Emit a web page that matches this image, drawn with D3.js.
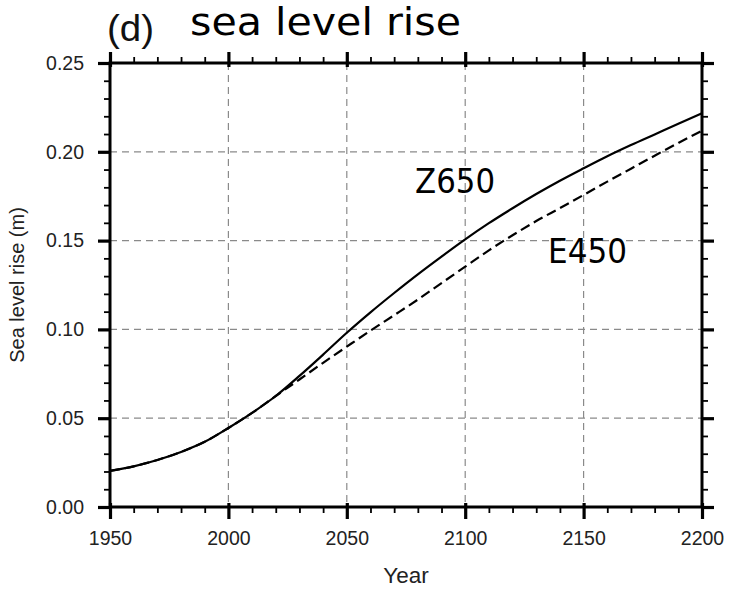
<!DOCTYPE html>
<html>
<head>
<meta charset="utf-8">
<script src="https://cdn.jsdelivr.net/npm/d3@7"></script>
<style>
  html, body { margin: 0; padding: 0; background: #fff; }
  svg { display: block; }
</style>
</head>
<body>
<div id="chart"></div>
<script>
'use strict';

const width = 730;
const height = 592;

// data
const years = [1950, 1960, 1970, 1980, 1990, 2000, 2010, 2020, 2030, 2040, 2050, 2060, 2070,
  2080, 2090, 2100, 2110, 2120, 2130, 2140, 2150, 2160, 2170, 2180, 2190, 2200];
const z650 = [0.0203, 0.0229, 0.0265, 0.0310, 0.0367, 0.0445, 0.0530, 0.0625, 0.0738, 0.0858,
  0.0981, 0.1096, 0.1205, 0.1310, 0.1410, 0.1507, 0.1598, 0.1682, 0.1762, 0.1837,
  0.1907, 0.1975, 0.2038, 0.2098, 0.2158, 0.2217];
const e450 = [0.0203, 0.0229, 0.0265, 0.0310, 0.0367, 0.0445, 0.0530, 0.0625, 0.0718, 0.0812,
  0.0903, 0.0993, 0.1080, 0.1168, 0.1261, 0.1353, 0.1445, 0.1530, 0.1610, 0.1683,
  0.1757, 0.1832, 0.1905, 0.1978, 0.2050, 0.2119];

const xTicks = [1950, 2000, 2050, 2100, 2150, 2200];
const yTicks = [0, 0.05, 0.10, 0.15, 0.20, 0.25];
const xMinor = d3.range(1950, 2201, 10).filter(d => !xTicks.includes(d));
const yMinor = d3.range(0, 26).map(d => d / 100).filter(d => !yTicks.some(t => Math.abs(t - d) < 1e-9));

const margin = { left: 110, right: 28, top: 63, bottom: 85 };

const svg = d3.select('#chart').append('svg')
  .attr('width', width)
  .attr('height', height);

svg.append('rect').attr('width', width).attr('height', height).attr('fill', '#fff');

const x = d3.scaleLinear().domain([1950, 2200]).range([margin.left, width - margin.right]);
const y = d3.scaleLinear().domain([0, 0.25]).range([height - margin.bottom, margin.top]);

const x0 = x.range()[0], x1 = x.range()[1];
const y0 = y.range()[0], y1 = y.range()[1];

// grid
const grid = svg.append('g')
  .attr('stroke', '#8a8a8a')
  .attr('stroke-width', 1.2)
  .attr('stroke-dasharray', '7,5');
grid.selectAll('line.vx')
  .data(xTicks.slice(1, -1))
  .enter().append('line')
  .attr('x1', d => x(d)).attr('x2', d => x(d))
  .attr('y1', y1).attr('y2', y0);
grid.selectAll('line.hy')
  .data(yTicks.slice(1, -1))
  .enter().append('line')
  .attr('x1', x0).attr('x2', x1)
  .attr('y1', d => y(d)).attr('y2', d => y(d));

// curves
const line = d3.line()
  .x((d, i) => x(years[i]))
  .y(d => y(d))
  .curve(d3.curveMonotoneX);

svg.append('path')
  .datum(z650)
  .attr('d', line)
  .attr('fill', 'none')
  .attr('stroke', '#000')
  .attr('stroke-width', 2.2);

svg.append('path')
  .datum(e450)
  .attr('d', line)
  .attr('fill', 'none')
  .attr('stroke', '#000')
  .attr('stroke-width', 2.2)
  .attr('stroke-dasharray', '10,5');

// axes helper
function styleAxis(g, width) {
  g.select('.domain').remove();
  g.selectAll('.tick line').attr('stroke', '#000').attr('stroke-width', width);
}

const tickFont = "'Liberation Sans', Arial, Helvetica, sans-serif";

// bottom
svg.append('g')
  .attr('transform', `translate(0,${y0})`)
  .call(d3.axisBottom(x).tickValues(xMinor).tickSize(6).tickFormat(''))
  .call(g => styleAxis(g, 1.8));
svg.append('g')
  .attr('transform', `translate(0,${y0 - 4})`)
  .call(d3.axisBottom(x).tickValues(xTicks).tickSize(16).tickPadding(12).tickFormat(d3.format('d')))
  .call(g => styleAxis(g, 3.2))
  .call(g => g.selectAll('text')
    .attr('fill', '#222')
    .style('font-family', tickFont)
    .style('font-size', '19.5px'));

// top
svg.append('g')
  .attr('transform', `translate(0,${y1})`)
  .call(d3.axisTop(x).tickValues(xMinor).tickSize(6).tickFormat(''))
  .call(g => styleAxis(g, 1.8));
svg.append('g')
  .attr('transform', `translate(0,${y1 + 4})`)
  .call(d3.axisTop(x).tickValues(xTicks).tickSize(15).tickFormat(''))
  .call(g => styleAxis(g, 3.2));

// left
svg.append('g')
  .attr('transform', `translate(${x0},0)`)
  .call(d3.axisLeft(y).tickValues(yMinor).tickSize(6).tickFormat(''))
  .call(g => styleAxis(g, 1.8));
svg.append('g')
  .attr('transform', `translate(${x0},0)`)
  .call(d3.axisLeft(y).tickValues(yTicks).tickSize(12).tickPadding(14).tickFormat(d3.format('.2f')))
  .call(g => styleAxis(g, 3.2))
  .call(g => g.selectAll('text')
    .attr('fill', '#222')
    .style('font-family', tickFont)
    .style('font-size', '19.5px'));

// right
svg.append('g')
  .attr('transform', `translate(${x1},0)`)
  .call(d3.axisRight(y).tickValues(yMinor).tickSize(6).tickFormat(''))
  .call(g => styleAxis(g, 1.8));
svg.append('g')
  .attr('transform', `translate(${x1},0)`)
  .call(d3.axisRight(y).tickValues(yTicks).tickSize(12).tickFormat(''))
  .call(g => styleAxis(g, 3.2));

// frame
svg.append('rect')
  .attr('x', x0).attr('y', y1)
  .attr('width', x1 - x0).attr('height', y0 - y1)
  .attr('fill', 'none')
  .attr('stroke', '#000')
  .attr('stroke-width', 3);

// axis titles
svg.append('text')
  .attr('x', (x0 + x1) / 2)
  .attr('y', 583)
  .attr('text-anchor', 'middle')
  .attr('fill', '#222')
  .style('font-family', tickFont)
  .style('font-size', '22.5px')
  .text('Year');

svg.append('text')
  .attr('transform', `translate(24,${(y0 + y1) / 2}) rotate(-90)`)
  .attr('text-anchor', 'middle')
  .attr('fill', '#222')
  .style('font-family', tickFont)
  .style('font-size', '20px')
  .text('Sea level rise (m)');

// title
svg.append('text')
  .attr('x', 107)
  .attr('y', 41)
  .attr('fill', '#111')
  .attr('textLength', 47)
  .attr('lengthAdjust', 'spacingAndGlyphs')
  .style('font-family', tickFont)
  .style('font-size', '36px')
  .text('(d)');

svg.append('text')
  .attr('x', 190)
  .attr('y', 35)
  .attr('fill', '#000')
  .attr('textLength', 271)
  .attr('lengthAdjust', 'spacingAndGlyphs')
  .style('font-family', "'DejaVu Sans', Verdana, sans-serif")
  .style('font-size', '37px')
  .text('sea level rise');

// series labels
const labelFont = "'DejaVu Sans', Verdana, sans-serif";
svg.append('text')
  .attr('x', 415).attr('y', 193)
  .attr('textLength', 80)
  .attr('lengthAdjust', 'spacingAndGlyphs')
  .style('font-family', labelFont)
  .style('font-size', '33px')
  .text('Z650');

svg.append('text')
  .attr('x', 548).attr('y', 263)
  .attr('textLength', 79)
  .attr('lengthAdjust', 'spacingAndGlyphs')
  .style('font-family', labelFont)
  .style('font-size', '33px')
  .text('E450');
</script>
</body>
</html>
